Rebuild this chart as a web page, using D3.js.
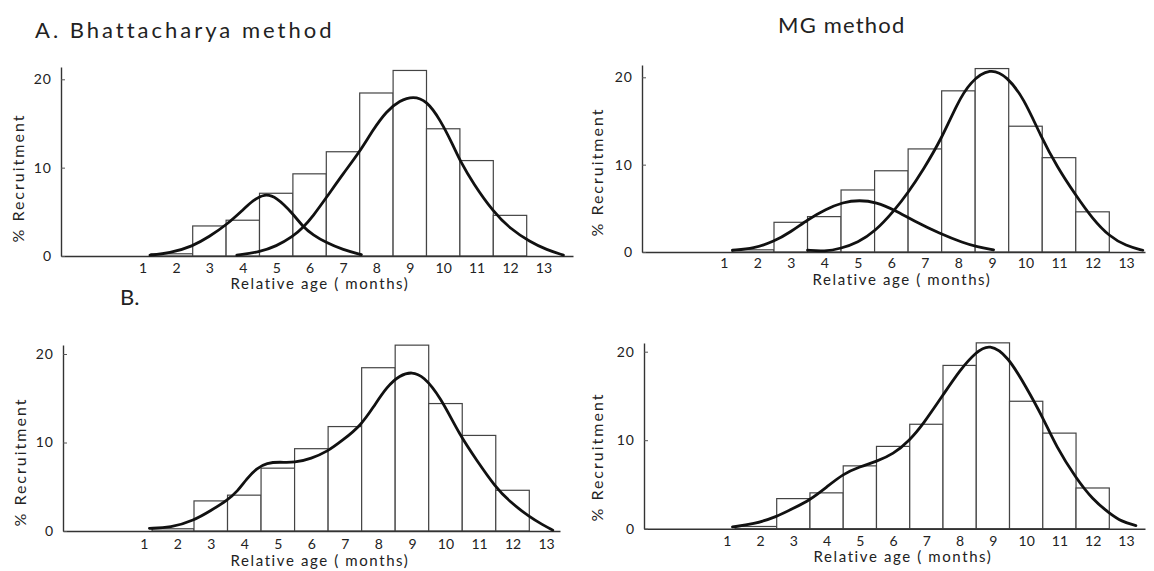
<!DOCTYPE html>
<html>
<head>
<meta charset="utf-8">
<script src="https://cdn.jsdelivr.net/npm/d3@7"></script>
<style>
  body { margin: 0; background: #fff; }
  svg { display: block; }
  text { font-family: Lato, "DejaVu Sans", sans-serif; fill: #222; }
</style>
</head>
<body>
<svg width="1154" height="571"></svg>
<script>
// histogram, same in every panel (months 2..12, first bin starts a bit before 1.5)
const binEdges = [1.25, 2.5, 3.5, 4.5, 5.5, 6.5, 7.5, 8.5, 9.5, 10.5, 11.5, 12.5];
const recruitment = [0.25, 3.4, 4.05, 7.1, 9.3, 11.8, 18.45, 21.0, 14.4, 10.8, 4.6];

const xTicks = [1, 2, 3, 4, 5, 6, 7, 8, 9, 10, 11, 12, 13];
const yTicks = [0, 10, 20];

// fitted curves [month, % recruitment]
const bhatA1 = [[1.22,0.1],[1.8,0.3],[2.5,1.1],[3.0,2.2],[3.5,3.5],[4.0,5.2],[4.3,6.3],[4.65,7.05],[5.0,6.7],[5.5,4.8],[5.8,3.3],[6.1,2.4],[6.5,1.5],[7.0,0.7],[7.55,0.15]];
const bhatA2 = [[3.82,0.1],[4.5,0.45],[5.0,1.1],[5.5,2.2],[5.8,3.2],[6.1,4.5],[6.5,6.6],[7.0,9.3],[7.5,11.8],[7.9,14.3],[8.3,16.4],[8.7,17.6],[9.1,18.1],[9.5,17.6],[9.9,15.5],[10.3,12.5],[10.5,10.8],[10.9,8.2],[11.5,5.0],[12.0,3.1],[12.6,1.6],[13.1,0.7],[13.6,0.1]];
const mgA1 = [[1.26,0.2],[1.9,0.4],[2.5,1.2],[3.0,2.3],[3.5,3.7],[4.05,4.9],[4.55,5.7],[5.05,5.95],[5.55,5.7],[6.1,4.8],[6.65,3.6],[7.45,2.1],[8.15,1.05],[8.55,0.6],[9.05,0.25]];
const mgA2 = [[3.5,0.2],[4.0,0.05],[4.5,0.4],[5.0,1.1],[5.5,2.3],[6.1,4.8],[6.5,6.8],[6.95,9.4],[7.5,13.0],[7.95,16.9],[8.35,19.5],[8.95,21.1],[9.45,20.1],[9.95,17.6],[10.45,13.3],[10.95,9.7],[11.5,6.5],[12.0,3.8],[12.5,1.8],[13.0,0.7],[13.5,0.2]];
const bhatB = [[1.17,0.3],[1.8,0.35],[2.5,1.2],[3.0,2.3],[3.5,3.5],[3.8,4.5],[4.07,5.9],[4.37,7.1],[4.67,7.7],[5.06,7.8],[5.5,7.7],[6.0,8.2],[6.47,8.95],[6.95,10.3],[7.47,11.9],[7.85,14.0],[8.25,16.3],[8.64,17.6],[9.0,18.0],[9.34,17.5],[9.84,15.2],[10.43,10.8],[10.93,8.0],[11.48,5.0],[11.92,3.3],[12.5,1.6],[12.9,0.7],[13.2,0.1]];
const mgB = [[1.17,0.2],[1.8,0.5],[2.5,1.35],[3.0,2.3],[3.5,3.25],[4.0,4.7],[4.5,6.2],[5.0,7.0],[5.5,7.6],[6.0,8.4],[6.5,10.0],[6.9,11.8],[7.5,15.1],[8.0,17.9],[8.5,20.0],[8.9,20.9],[9.45,19.5],[10.0,16.0],[10.5,12.6],[10.9,9.3],[11.5,5.7],[12.0,3.3],[12.5,1.75],[12.87,0.8],[13.3,0.35]];

// panel placement (pixels)
const panels = [
  { curves: [bhatA1, bhatA2], b25: 192.7, b125: 526.7, left: 61, right: 573, y0: 256, y20: 79.3, top: 67,
    yLab: [18, 178], xLab: [320, 284], tickY: 268 },
  { curves: [mgA1, mgA2], b25: 774, b125: 1109.3, left: 642, right: 1145, y0: 252, y20: 77.3, top: 65,
    yLab: [597, 172], xLab: [902, 280], tickY: 263 },
  { curves: [bhatB], b25: 194, b125: 529.3, left: 63, right: 560, y0: 531, y20: 354, top: 345,
    yLab: [20, 462], xLab: [320, 561], tickY: 544 },
  { curves: [mgB], b25: 776.7, b125: 1109.3, left: 644, right: 1145, y0: 528.7, y20: 351.7, top: 343,
    yLab: [597, 457], xLab: [903, 557], tickY: 541 }
];

const svg = d3.select('svg');

function drawPanel(p) {
  let x = d3.scaleLinear().domain([2.5, 12.5]).range([p.b25, p.b125]);
  x = x.copy().domain([x.invert(p.left), x.invert(p.right)]).range([p.left, p.right]);
  let y = d3.scaleLinear().domain([0, 20]).range([p.y0, p.y20]);
  y = y.copy().domain([0, y.invert(p.top)]).range([p.y0, p.top]);

  const g = svg.append('g');

  // bars
  g.selectAll('rect.bar')
    .data(recruitment)
    .join('rect')
    .attr('class', 'bar')
    .attr('x', (d, i) => x(binEdges[i]))
    .attr('width', (d, i) => x(binEdges[i + 1]) - x(binEdges[i]))
    .attr('y', d => y(d))
    .attr('height', d => y(0) - y(d))
    .attr('fill', 'white')
    .attr('stroke', '#444')
    .attr('stroke-width', 1.2);

  // axes
  const xAxis = g.append('g')
    .attr('transform', `translate(0,${p.y0})`)
    .call(d3.axisBottom(x).tickValues(xTicks).tickSize(0).tickPadding(0));
  xAxis.select('.domain').attr('stroke', '#333').attr('stroke-width', 1.4);
  xAxis.selectAll('.tick text')
    .attr('y', p.tickY - p.y0)
    .attr('dy', '0.35em')
    .style('font-size', '14px')
    .style('font-family', 'Lato, sans-serif')
    .attr('fill', '#222');

  const yAxis = g.append('g')
    .attr('transform', `translate(${p.left},0)`)
    .call(d3.axisLeft(y).tickValues(yTicks).tickSizeInner(-4).tickSizeOuter(0).tickPadding(9));
  yAxis.select('.domain').attr('stroke', '#333').attr('stroke-width', 1.4);
  yAxis.selectAll('.tick line').attr('stroke', '#555');
  yAxis.selectAll('.tick text')
    .style('font-size', '14px')
    .style('font-family', 'Lato, sans-serif')
    .style('letter-spacing', '1px')
    .attr('fill', '#222');

  // fitted curves
  const line = d3.line()
    .x(d => x(d[0]))
    .y(d => y(d[1]))
    .curve(d3.curveBasis);
  g.selectAll('path.fit')
    .data(p.curves)
    .join('path')
    .attr('class', 'fit')
    .attr('d', line)
    .attr('fill', 'none')
    .attr('stroke', '#111')
    .attr('stroke-width', 2.8)
    .attr('stroke-linecap', 'round');

  // labels
  g.append('text')
    .attr('transform', `translate(${p.yLab[0]},${p.yLab[1]}) rotate(-90)`)
    .attr('text-anchor', 'middle')
    .attr('dy', '0.35em')
    .style('font-size', '16px')
    .style('letter-spacing', '2px')
    .text('% Recruitment');

  g.append('text')
    .attr('x', p.xLab[0])
    .attr('y', p.xLab[1])
    .attr('text-anchor', 'middle')
    .attr('dy', '0.35em')
    .style('font-size', '15px')
    .style('letter-spacing', '1.6px')
    .text('Relative age ( months)');
}

panels.forEach(drawPanel);

// headings
svg.append('text').attr('x', 35).attr('y', 38)
  .style('font-size', '22px').style('letter-spacing', '3px')
  .text('A.  Bhattacharya  method');
svg.append('text').attr('x', 778).attr('y', 33)
  .style('font-size', '22px').style('letter-spacing', '1.2px')
  .text('MG method');
svg.append('text').attr('x', 120).attr('y', 305)
  .style('font-size', '22px')
  .text('B.');
</script>
</body>
</html>
